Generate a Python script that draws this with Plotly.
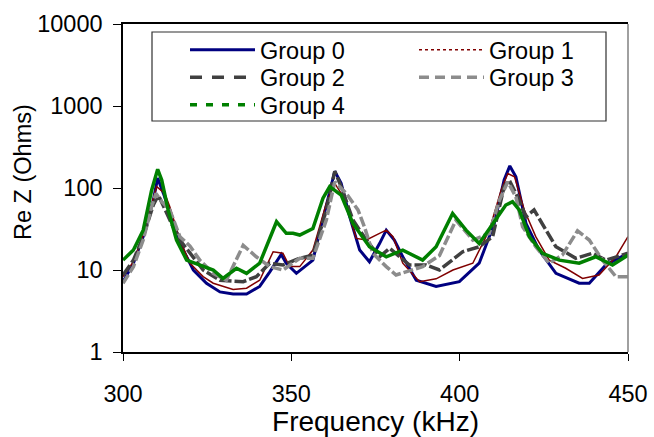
import plotly.graph_objects as go

# ---------------- data ----------------
f0 = [300, 303.1, 306, 309, 310.3, 312, 315, 317.9, 320.9, 324.8, 328.8, 332.7, 336.7, 340.6, 343.6,
      347, 348.5, 351.5, 356.4, 360.4, 362.9, 364.8, 367.3, 370.3, 373.2, 376.2, 378.2, 380.6, 383.1,
      387.1, 393, 399.9, 405.8, 410.3, 413.2, 414.9, 416.7, 419.7, 423.6, 428.6, 435.5, 438.5, 443.4, 450]
v0 = [7.2, 12.1, 25.5, 71, 132, 86, 37, 17.5, 10, 6.9, 5.4, 5.1, 5.1, 6.3, 9.5,
      15.5, 12.1, 9.1, 13.2, 59, 160, 114, 45, 17.5, 12.6, 21, 30.6, 23.2, 14.5,
      7.5, 6.3, 7.2, 12.1, 37, 125, 186, 137, 37, 17.5, 9.1, 6.9, 6.9, 11.5, 16]

f1 = [300, 303.1, 306, 309, 310, 312.4, 313.9, 316.9, 319.9, 323.8, 326.8, 332.7, 336.7, 340.6, 344.6,
      347.5, 349.5, 352.5, 356.4, 360.4, 362.9, 364.8, 367.3, 369.3, 372.3, 376.2, 378.2, 380.2, 383.1,
      388.1, 393, 398, 403.9, 408.8, 412.3, 414.3, 416.3, 419.2, 422.6, 426.6, 431.5, 436.5, 441.4, 446.4, 450]
v1 = [8.3, 12.6, 26.7, 78, 104, 86, 59, 23.2, 12.1, 8.3, 6.9, 5.8, 6.0, 7.5, 16.7,
      16, 11, 11, 17.5, 65, 114, 86, 45, 24.3, 23.2, 28, 30.6, 25.5, 12.1,
      7.2, 7.8, 10, 12.1, 30.6, 94, 150, 137, 54, 25.5, 13.2, 10.5, 7.9, 8.7, 14.5, 25.5]

f2 = [300, 303.1, 306, 309, 310.5, 312, 314.4, 316.9, 319.9, 323.8, 328.8, 335.7, 339.6, 343.6, 347.5,
      352.5, 356.4, 360.4, 362.9, 364.8, 368.3, 372.3, 376.2, 379.2, 385.1, 390, 394, 400.9, 405.8,
      409.8, 413.2, 414.7, 417.2, 419.7, 422.1, 425.6, 428.6, 434.5, 439.5, 443.4, 450]
v2 = [8.7, 13.2, 25.5, 62, 82, 59, 37, 23.2, 16, 10, 7.5, 7.2, 8.3, 12.1, 11.5,
      13.9, 15.2, 54, 160, 104, 40.6, 23.2, 14.5, 18.4, 11.5, 11.5, 10, 16.7, 19.2,
      25.5, 104, 125, 78, 44.6, 54, 30.6, 19.2, 13.9, 16, 13.2, 16]

f3 = [300, 303.1, 306, 308.5, 309.8, 311.5, 313.9, 316.9, 319.9, 322.8, 326.8, 330.7, 335.7, 339.6, 343.6,
      347.5, 352.5, 356.4, 360.4, 362.9, 366.3, 369.8, 371.7, 374.2, 378.2, 381.1, 389, 394, 398.9,
      403.9, 408.8, 411.8, 414.3, 416.7, 418.7, 422.6, 426.6, 430.5, 435, 438.5, 442.4, 446.4, 450]
v3 = [6.9, 11, 23.2, 59, 86, 68, 54, 25.5, 19.6, 13.2, 9.1, 7.5, 20, 14.5, 11,
      10, 13.9, 13.9, 40.6, 119, 86, 54, 33.7, 16, 11, 8.7, 11, 15, 40.6,
      23.2, 28, 71, 119, 78, 33.7, 19.2, 12.1, 15.2, 30, 23.2, 13.2, 8.3, 8.3]

f4 = [300, 303.1, 306, 308.5, 310.3, 311.5, 313.4, 315.9, 318.9, 322.8, 326.8, 329.7, 333.7, 336.7, 340.6,
      345.6, 348.5, 350.5, 352.5, 356.4, 359.4, 361.4, 364.8, 368.3, 373.2, 378.2, 383.1, 389, 393,
      397.9, 401.9, 405.8, 409.8, 413.7, 415.7, 417.7, 420.7, 424.6, 429.6, 435.5, 440.4, 445.4, 450]
v4 = [13.2, 17.5, 30.6, 94, 169, 125, 54, 23.2, 13.2, 11.5, 10, 7.9, 10.5, 9.1, 12.1,
      38.8, 28, 28, 26.7, 32, 75, 104, 82, 37, 19.2, 14.5, 17.5, 13.2, 19.2,
      49, 30.6, 21, 37, 62, 68, 54, 25.5, 16, 13.2, 12.1, 14.5, 11.5, 15.2]

names = ["Group 0", "Group 1", "Group 2", "Group 3", "Group 4"]
freqs = [f0, f1, f2, f3, f4]
vals = [v0, v1, v2, v3, v4]

x_ticks = [300, 350, 400, 450]
y_ticks = [1, 10, 100, 1000, 10000]
y_ticktext = ["1", "10", "100", "1000", "10000"]
x_title = "Frequency (kHz)"
y_title = "Re Z (Ohms)"

# ---------------- styles ----------------
colors = ["#000080", "#800000", "#404040", "#8c8c8c", "#008000"]
widths = [3, 1.5, 3.5, 3.5, 3.5]
plot_dash = ["solid", "solid", "12px,3px", "10px,3px", "solid"]
legend_dash = ["solid", "dot", "12px,10px", "10px,6px", "7px,9px"]

FONT = "Liberation Sans, Arial, sans-serif"
FS = 23.5

# plot area in pixels (for placing legend entries)
L, R, T, B = 123, 26, 24, 85
PW, PH = 654 - L - R, 437 - T - B
col_x = [185, 414, 185, 414, 185]
row_y = [50, 50, 77.5, 77.5, 105]
legend_ids = ["legend", "legend2", "legend3", "legend4", "legend5"]

fig = go.Figure()
for i in range(5):
    fig.add_trace(go.Scatter(
        x=freqs[i], y=vals[i], mode="lines", name=names[i],
        line=dict(color=colors[i], width=widths[i], dash=plot_dash[i]),
        legendgroup=names[i], showlegend=False))
for i in range(5):
    fig.add_trace(go.Scatter(
        x=[None], y=[None], mode="lines", name=names[i],
        line=dict(color=colors[i], width=widths[i], dash=legend_dash[i]),
        legendgroup=names[i], showlegend=True, legend=legend_ids[i]))

legend_layouts = {}
for i in range(5):
    legend_layouts[legend_ids[i]] = dict(
        x=(col_x[i] - L) / PW, y=1 - (row_y[i] - T) / PH,
        xanchor="left", yanchor="middle",
        bgcolor="rgba(0,0,0,0)", font=dict(size=FS), itemwidth=65,
        borderwidth=0)

fig.update_layout(
    width=654, height=437,
    margin=dict(l=L, r=R, t=T, b=B, autoexpand=False),
    paper_bgcolor="white", plot_bgcolor="white",
    font=dict(family=FONT, size=FS, color="black"),
    xaxis=dict(range=[300, 450], tickvals=x_ticks, ticks="outside", ticklen=7,
               tickcolor="black", showline=True, linecolor="black", linewidth=1.5,
               mirror=True, showgrid=False, zeroline=False, ticklabelstandoff=13,
               automargin=False,
               title=dict(text=x_title, standoff=10)),
    yaxis=dict(type="log", range=[0, 4], tickvals=y_ticks, ticktext=y_ticktext,
               ticks="outside", ticklen=8, tickcolor="black", showline=True,
               linecolor="black", linewidth=1.5, showgrid=False, zeroline=False,
               ticklabelstandoff=6, automargin=False),
    annotations=[
        dict(text=y_title, textangle=-90, xref="paper", yref="paper",
             x=(23 - L) / PW, y=1 - (172 - T) / PH, xanchor="center", yanchor="middle",
             showarrow=False, font=dict(family=FONT, size=FS, color="black")),
    ],
    shapes=[
        dict(type="line", xref="paper", yref="paper", x0=1, x1=1, y0=0, y1=1,
             line=dict(color="#808080", width=1.5)),
        dict(type="rect", xref="paper", yref="paper",
             x0=(152 - L) / PW, x1=(606 - L) / PW,
             y0=1 - (121 - T) / PH, y1=1 - (32 - T) / PH,
             line=dict(color="#303030", width=1.2)),
    ],
    **legend_layouts,
)

fig.write_html("out.html")
